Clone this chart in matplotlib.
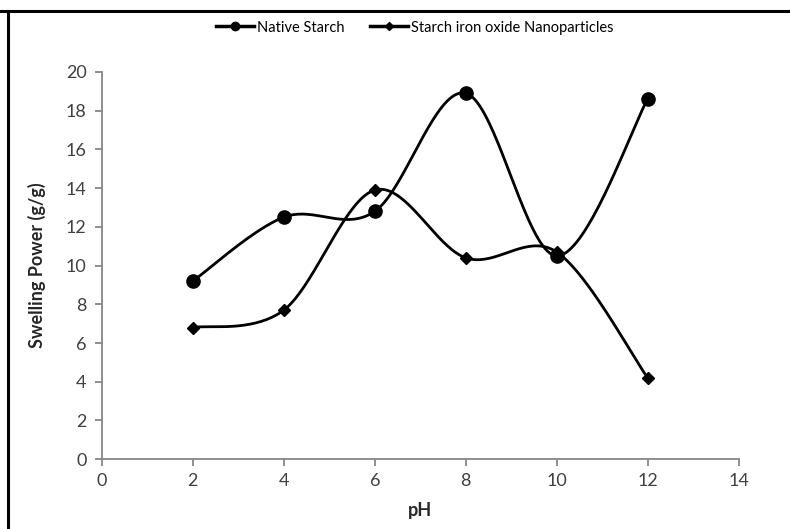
import numpy as np
import matplotlib
matplotlib.use("Agg")
import matplotlib.pyplot as plt
from matplotlib.lines import Line2D

plt.rcParams['font.family'] = ['Lato', 'DejaVu Sans']

# data
ph = [2, 4, 6, 8, 10, 12]
native_starch = [9.2, 12.5, 12.8, 18.9, 10.5, 18.6]
iron_oxide_np = [6.8, 7.7, 13.9, 10.4, 10.7, 4.2]

x_ticks = [0, 2, 4, 6, 8, 10, 12, 14]
y_ticks = [0, 2, 4, 6, 8, 10, 12, 14, 16, 18, 20]


def smooth(xs, ys, n=40):
    # excel-like smoothed line: catmull-rom segments as cubic beziers
    p = np.column_stack([xs, ys]).astype(float)
    p = np.vstack([p[0], p, p[-1]])
    out = []
    t = np.linspace(0, 1, n)[:, None]
    for i in range(1, len(p) - 2):
        p0, p1, p2, p3 = p[i - 1], p[i], p[i + 1], p[i + 2]
        c1 = p1 + (p2 - p0) / 6
        c2 = p2 - (p3 - p1) / 6
        seg = ((1 - t) ** 3) * p1 + 3 * ((1 - t) ** 2) * t * c1 + 3 * (1 - t) * t ** 2 * c2 + t ** 3 * p2
        out.append(seg)
    out = np.vstack(out)
    return out[:, 0], out[:, 1]


fig = plt.figure(figsize=(7.9, 5.29), dpi=100)
ax = fig.add_axes([0.129, 0.132, 0.806, 0.732])

sx, sy = smooth(ph, native_starch)
ax.plot(sx, sy, color='black', lw=2.0, zorder=3)
ax.plot(ph, native_starch, 'o', color='black', ms=9.5, zorder=4)

sx, sy = smooth(ph, iron_oxide_np)
ax.plot(sx, sy, color='black', lw=2.0, zorder=3)
ax.plot(ph, iron_oxide_np, 'D', color='black', ms=6.5, zorder=4)

ax.set_xlim(0, 14)
ax.set_ylim(0, 20)
ax.set_xticks(x_ticks)
ax.set_yticks(y_ticks)

gray = '#868686'
for s in ['top', 'right']:
    ax.spines[s].set_visible(False)
for s in ['left', 'bottom']:
    ax.spines[s].set_color(gray)
    ax.spines[s].set_linewidth(1.3)
ax.tick_params(axis='both', colors=gray, length=5, width=1.3, labelsize=13,
               labelcolor='#404040')
ax.tick_params(axis='x', pad=5)
ax.tick_params(axis='y', pad=6)

ax.set_xlabel('pH', fontsize=13, fontweight='bold', color='#262626', labelpad=9)
ax.set_ylabel('Swelling Power (g/g)', fontsize=13, fontweight='bold', color='#262626', labelpad=14)

handles = [Line2D([], [], color='black', lw=2.5, marker='o', ms=6),
           Line2D([], [], color='black', lw=2.5, marker='D', ms=4)]
fig.legend(handles, ['Native Starch', 'Starch iron oxide Nanoparticles'],
           loc='center', bbox_to_anchor=(0.525, 0.948), ncol=2, frameon=False,
           fontsize=10.5, handlelength=2.6, handletextpad=0.2, columnspacing=1.8)

# outer frame lines (top and left edges of the original border)
fig.add_artist(Line2D([0, 1], [1 - 11 / 529, 1 - 11 / 529], color='black', lw=2.2,
                      transform=fig.transFigure))
fig.add_artist(Line2D([8 / 790, 8 / 790], [0, 1 - 11 / 529], color='black', lw=2.2,
                      transform=fig.transFigure))

fig.savefig('out.png', dpi=100)
